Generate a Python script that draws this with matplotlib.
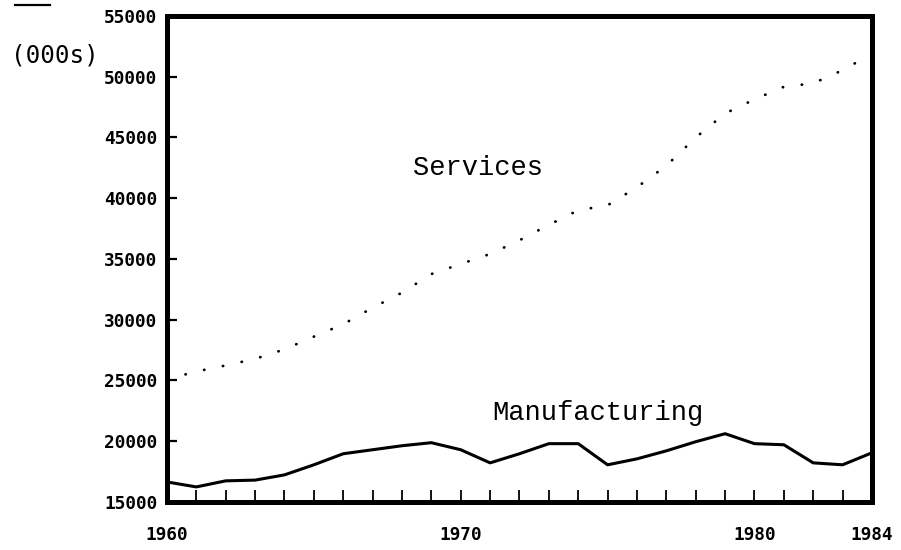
import matplotlib
matplotlib.use("Agg")
import matplotlib.pyplot as plt
from matplotlib.lines import Line2D

# Employment by sector, thousands
years = list(range(1960, 1985))
services = [25100, 25740, 26240, 26780, 27560, 28610, 29630, 30990, 32230, 33760,
            34590, 35410, 36540, 37810, 39010, 39420, 40910, 42680, 45000, 46980,
            48140, 49170, 49460, 50540, 51900]
manufacturing = [16650, 16240, 16740, 16800, 17230, 18060, 18970, 19300, 19630, 19880,
                 19300, 18220, 18970, 19800, 19800, 18060, 18550, 19210, 19960, 20620,
                 19800, 19710, 18220, 18060, 19050]

y_ticks = list(range(15000, 55001, 5000))
x_labels = [1960, 1970, 1980, 1984]

fig = plt.figure(figsize=(9.01, 5.5), dpi=100)
ax = fig.add_axes([0.1853, 0.0873, 0.7825, 0.8836])

ax.plot(years, manufacturing, color="black", linewidth=2.2, solid_joinstyle="round")
ax.plot(years, services, color="black", linewidth=2.0,
        linestyle=(0, (0.1, 6.8)), dash_capstyle="round")

ax.set_xlim(1960, 1984)
ax.set_ylim(15000, 55000)

ax.set_yticks(y_ticks)
ax.set_yticklabels([str(v) for v in y_ticks])
ax.set_xticks(x_labels)
ax.set_xticklabels([str(v) for v in x_labels])
ax.set_xticks(years, minor=True)

ax.tick_params(axis="y", direction="in", length=7, width=1.6, pad=7,
               labelsize=12.8)
ax.tick_params(axis="x", which="both", direction="in", length=8.5, width=1.3,
               pad=17, labelsize=12.8)

for lbl in ax.get_xticklabels() + ax.get_yticklabels():
    lbl.set_fontfamily("DejaVu Sans Mono")
    lbl.set_fontweight("bold")

for sp in ax.spines.values():
    sp.set_linewidth(3.6)

ax.text(1968.36, 42520, "Services", family="Liberation Mono", fontsize=19.5,
        ha="left", va="center")
ax.text(1971.06, 22300, "Manufacturing", family="Liberation Mono", fontsize=19.5,
        ha="left", va="center")

fig.text(0.012, 0.90, "(000s)", family="DejaVu Sans Mono", fontsize=17.5,
         ha="left", va="center")
fig.add_artist(Line2D([15 / 901, 50 / 901], [1 - 5 / 550, 1 - 5 / 550],
                      color="black", linewidth=1.6))

fig.savefig("out.png", dpi=100, facecolor="white")
